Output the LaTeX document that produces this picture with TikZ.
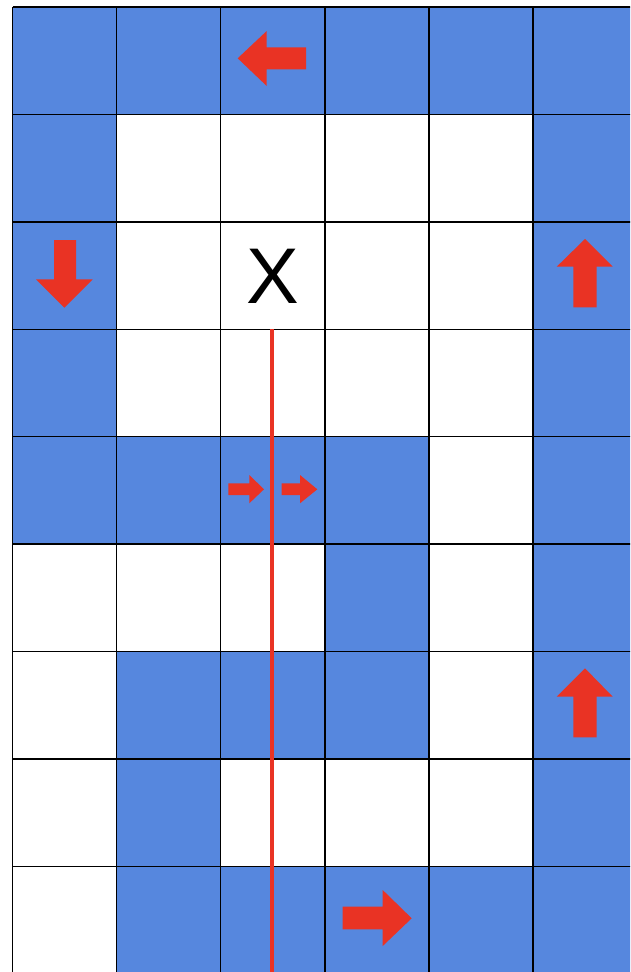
\documentclass[tikz,border=0pt]{standalone}
\usepackage{fontspec}
\setmainfont{Liberation Sans}
\definecolor{cellblue}{RGB}{86,135,222}
\definecolor{arrowred}{RGB}{233,51,36}
\begin{document}
\begin{tikzpicture}[x=1pt,y=-1pt,
  gridline/.style={draw=black,line width=1.4pt},
  bluecell/.style={fill=cellblue},
  redarrow/.style={fill=arrowred},
  pathline/.style={draw=arrowred,line width=4pt}]
\useasboundingbox (0,0) rectangle (630,972);
\clip (0,0) rectangle (630,972);
\fill[white] (0,0) rectangle (630,972);
\def\cw{104.1}
\def\rh{107.4}
\def\xo{12.5}
\def\yo{7}
% blue cells: list of row/col
\foreach \r/\c in {0/0,0/1,0/2,0/3,0/4,0/5,
  1/0,1/5, 2/0,2/5, 3/0,3/5,
  4/0,4/1,4/2,4/3,4/5,
  5/3,5/5,
  6/1,6/2,6/3,6/5,
  7/1,7/5,
  8/1,8/2,8/3,8/4,8/5}{
  \fill[bluecell] ({\xo+\c*\cw},{\yo+\r*\rh}) rectangle ({\xo+(\c+1)*\cw},{\yo+(\r+1)*\rh});
}
% grid lines
\foreach \c in {0,...,6}{
  \draw[gridline] ({\xo+\c*\cw},\yo) -- ({\xo+\c*\cw},{\yo+9*\rh});
}
\foreach \r in {0,...,9}{
  \draw[gridline] (\xo,{\yo+\r*\rh}) -- ({\xo+6*\cw},{\yo+\r*\rh});
}
% arrows
% left arrow row 1 col 3
\fill[redarrow] (237.7,58.3) -- (266.7,31) -- (266.7,47.3) -- (306,47.3) -- (306,69.3) -- (266.7,69.3) -- (266.7,86) -- cycle;
% down arrow row 3 col 1
\fill[redarrow] (64.3,307.7) -- (36,279.3) -- (54,279.3) -- (54,240) -- (76,240) -- (76,279.3) -- (92.7,279.3) -- cycle;
% up arrow row 3 col 6
\fill[redarrow] (585,239) -- (556.7,266.7) -- (573.3,266.7) -- (573.3,307.3) -- (596.7,307.3) -- (596.7,266.7) -- (612.7,266.7) -- cycle;
% up arrow row 7 col 6
\fill[redarrow] (585,668.3) -- (556.7,696.7) -- (573.3,696.7) -- (573.3,737.3) -- (596.7,737.3) -- (596.7,696.7) -- (612.7,696.7) -- cycle;
% small right arrows row 5
\fill[redarrow] (264,489.3) -- (249.3,475) -- (249.3,483.3) -- (228.3,483.3) -- (228.3,495) -- (249.3,495) -- (249.3,503.3) -- cycle;
\fill[redarrow] (317.3,489.3) -- (300,475) -- (300,483.3) -- (281.7,483.3) -- (281.7,495) -- (300,495) -- (300,503.3) -- cycle;
% right arrow row 9 col 4
\fill[redarrow] (411.7,918.3) -- (382.7,890) -- (382.7,906.7) -- (342.7,906.7) -- (342.7,929.3) -- (382.7,929.3) -- (382.7,946) -- cycle;
% red line
\coordinate (ltop) at (272.3,329.3);
\coordinate (lbot) at (272.3,980);
\draw[pathline] (ltop) -- (lbot);
% X
\node[font=\fontsize{79}{79}\selectfont,inner sep=0pt,anchor=base] (xmark) at (273,303.3) {X};
\end{tikzpicture}
\end{document}
